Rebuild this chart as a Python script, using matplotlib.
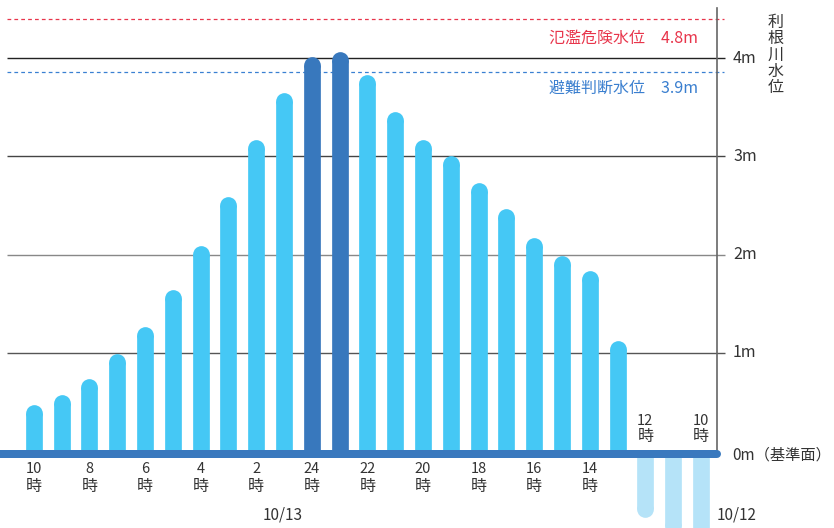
import matplotlib
matplotlib.use("Agg")
import matplotlib.pyplot as plt

plt.rcParams['font.family'] = ['Noto Sans CJK JP', 'DejaVu Sans']

# ---------------- data ----------------
# hourly Tone river water level (m), from 10/13 10時 (left) back to 10/12 10時 (right)
hours = [10, 9, 8, 7, 6, 5, 4, 3, 2, 1, 24, 23, 22, 21, 20, 19, 18, 17, 16, 15, 14, 13, 12, 11, 10]
levels = [0.47, 0.57, 0.74, 0.99, 1.27, 1.64, 2.09, 2.59, 3.17, 3.65, 4.02, 4.07,
          3.83, 3.46, 3.17, 3.01, 2.73, 2.47, 2.17, 1.99, 1.84, 1.12, -0.68, -0.85, -0.90]
peak_hours = [24, 23]
label_hours = [10, 8, 6, 4, 2, 24, 22, 20, 18, 16, 14, 12, 10]
y_ticks = [1, 2, 3, 4]
y_tick_labels = ['1m', '2m', '3m', '4m']
zero_label = '0m（基準面）'
danger_label = '氾濫危険水位　4.8m'
danger_line = 4.40          # drawn position of the danger line on the chart
evac_label = '避難判断水位　3.9m'
evac_line = 3.86
axis_title = '利根川水位'
date_labels = ['10/13', '10/12']

# ---------------- layout ----------------
W, H = 834, 528
X0, DX = 33.7, 27.8          # pixel x of first bar, spacing
Y0, S = 451.0, 98.2          # pixel y of 0 m, pixels per metre

def xd(px):
    return (px - X0) / DX

def yd(py):
    return (Y0 - py) / S

fig = plt.figure(figsize=(W / 100, H / 100), dpi=100)
ax = fig.add_axes([0, 0, 1, 1])
ax.set_xlim(xd(0), xd(W))
ax.set_ylim(yd(H), yd(0))
ax.axis('off')

light = '#45c8f5'
dark = '#3878bd'
pale = '#b5e3f8'
band_c = '#3a79be'
txt = '#333333'

n = len(levels)
axis_x = xd(717)
band_y = yd(454)

# gridlines
grid_cols = {1: '#555555', 2: '#888888', 3: '#444444', 4: '#222222'}
for t in y_ticks:
    ax.plot([xd(7), xd(725)], [t, t], color=grid_cols[t], lw=1.0, zorder=1,
            solid_capstyle='butt')

# reference dashed lines
ax.plot([xd(7), xd(724)], [danger_line, danger_line], color='#e8354b', lw=0.9,
        dashes=(3, 2.5), zorder=1)
ax.plot([xd(7), xd(724)], [evac_line, evac_line], color='#3a80d2', lw=0.9,
        dashes=(3, 2.5), zorder=1)

# bars (rounded outer ends, flat at the base)
bar_px = 16.7
lw_pt = bar_px * 72 / 100
r = (bar_px / 2) / S
for i, (h, v) in enumerate(zip(hours, levels)):
    if v >= 0:
        col = dark if (h in peak_hours and 9 <= i <= 12) else light
        end = v - r
        z = 3
    else:
        col = pale
        end = v + r
        z = 2
    ax.plot([i, i], [band_y, end], color=col, lw=lw_pt, solid_capstyle='butt', zorder=z)
    ax.scatter([i], [end], s=lw_pt ** 2, color=col, marker='o', linewidths=0, zorder=z)

# base band (0 m)
ax.plot([xd(-20), axis_x], [band_y, band_y], color=band_c, lw=8 * 72 / 100,
        solid_capstyle='round', zorder=5)

# vertical axis
ax.plot([axis_x, axis_x], [band_y, yd(8)], color='#666666', lw=1.2, zorder=4)

# right tick labels
for t, lab in zip(y_ticks, y_tick_labels):
    ax.text(xd(733), t, lab, fontsize=11.5, color=txt, ha='left', va='center')
ax.text(xd(732), yd(455), zero_label, fontsize=11, color=txt, ha='left', va='center')

# axis title (vertical)
ax.text(xd(776), yd(55), '\n'.join(axis_title), fontsize=11.5, color=txt,
        ha='center', va='center', linespacing=0.95)

# threshold labels
ax.text(xd(698), yd(38.5), danger_label, fontsize=11.5, color='#e8354b',
        ha='right', va='center')
ax.text(xd(698), yd(88), evac_label, fontsize=11.5, color='#3a7fcf',
        ha='right', va='center')

# hour labels
for k, hlab in enumerate(label_hours):
    i = 2 * k
    if levels[i] >= 0:
        ny, jy = 469, 487
    else:
        ny, jy = 421, 437
    ax.text(i, yd(ny), str(hlab), fontsize=10.5, color=txt, ha='center', va='center')
    ax.text(i, yd(jy), '時', fontsize=11.5, color=txt, ha='center', va='center')

# date labels
ax.text(xd(283), yd(515), date_labels[0], fontsize=11, color=txt, ha='center', va='center')
ax.text(xd(737), yd(515), date_labels[1], fontsize=11, color=txt, ha='center', va='center')

fig.savefig('out.png', dpi=100)
